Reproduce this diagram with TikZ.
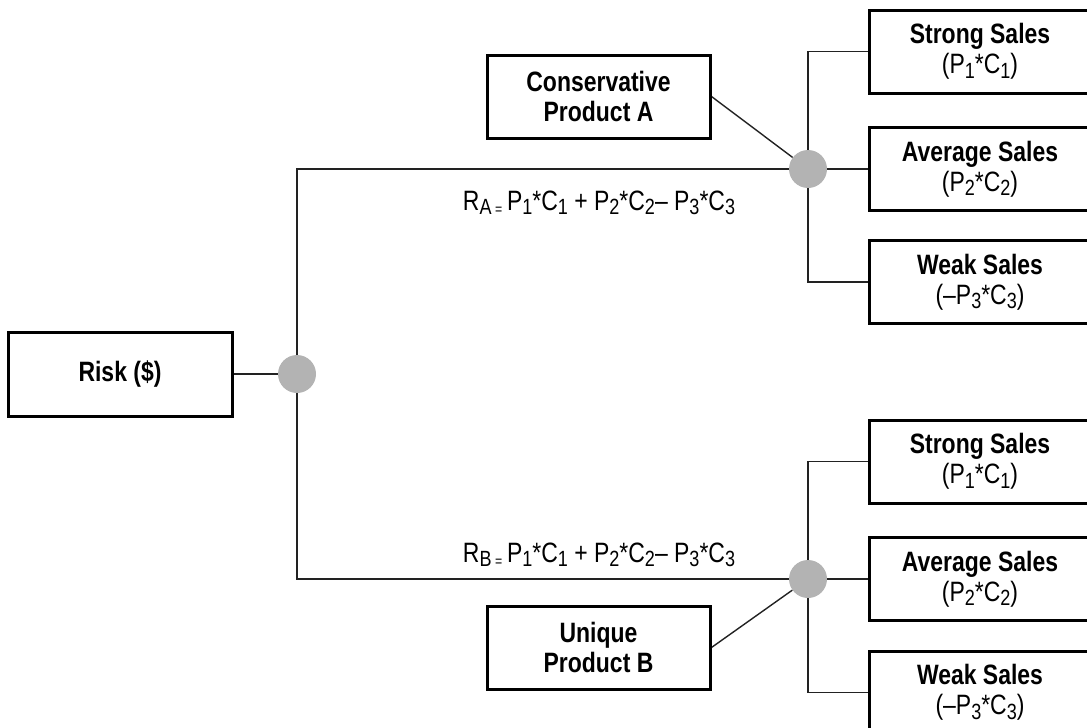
\documentclass[tikz,border=0pt]{standalone}
\usepackage{fontspec}
\setmainfont{Liberation Sans}[FakeStretch=0.82]
\usetikzlibrary{backgrounds}
\definecolor{dotgray}{HTML}{B3B3B3}
\definecolor{linegray}{HTML}{222222}
\newcommand{\sbs}[1]{\raisebox{-4.5pt}{\fontsize{22}{22}\selectfont #1}}
\tikzset{
  box/.style={draw, line width=3pt, minimum width=222pt, minimum height=83pt,
    align=center, inner sep=0pt, font=\fontsize{28}{30}\selectfont},
  dot/.style={circle, fill=dotgray, minimum size=38pt, inner sep=0pt},
  conn/.style={draw=linegray, line width=1.4pt},
  formula/.style={font=\fontsize{28}{30}\selectfont, inner sep=0pt}
}
\begin{document}
\begin{tikzpicture}[x=1pt,y=-1pt]
\useasboundingbox (0,0) rectangle (1087,728);
\clip (0,0) rectangle (1087,728);
% boxes
\node[box, minimum width=224pt, minimum height=84pt] (risk) at (120,374) {\textbf{Risk (\$)}};
\node[box, minimum width=223pt] (consA) at (598.5,96.5) {\textbf{Conservative}\\\textbf{Product A}};
\node[box, minimum width=223pt] (uniqB) at (598.5,647.5) {\textbf{Unique}\\\textbf{Product B}};
\node[box] (sA1) at (980,51.5) {\textbf{Strong Sales}\\(P\sbs{1}*C\sbs{1})};
\node[box] (sA2) at (980,169) {\textbf{Average Sales}\\(P\sbs{2}*C\sbs{2})};
\node[box] (sA3) at (980,282) {\textbf{Weak Sales}\\(–P\sbs{3}*C\sbs{3})};
\node[box] (sB1) at (980,461.5) {\textbf{Strong Sales}\\(P\sbs{1}*C\sbs{1})};
\node[box] (sB2) at (980,579) {\textbf{Average Sales}\\(P\sbs{2}*C\sbs{2})};
\node[box] (sB3) at (980,692.5) {\textbf{Weak Sales}\\(–P\sbs{3}*C\sbs{3})};
% chance nodes
\node[dot] (root) at (297,374) {};
\node[dot] (cA) at (808,169) {};
\node[dot] (cB) at (808,579) {};
% formulas
\node[formula] (fA) at (599,203) {R\sbs{A\,{\fontsize{15}{15}\selectfont=}}\,P\sbs{1}*C\sbs{1} + P\sbs{2}*C\sbs{2}– P\sbs{3}*C\sbs{3}};
\node[formula] (fB) at (599,555) {R\sbs{B\,{\fontsize{15}{15}\selectfont=}}\,P\sbs{1}*C\sbs{1} + P\sbs{2}*C\sbs{2}– P\sbs{3}*C\sbs{3}};
% connectors
\begin{scope}[on background layer]
\draw[conn] (risk.east) -- (root);
\draw[conn] (root) |- (cA);
\draw[conn] (root) |- (cB);
\draw[conn] (consA.east) -- (cA);
\draw[conn] (uniqB.east) -- (cB);
\draw[conn] (cA) |- (sA1.west);
\draw[conn] (cA) -- (sA2.west);
\draw[conn] (cA) |- (sA3.west);
\draw[conn] (cB) |- (sB1.west);
\draw[conn] (cB) -- (sB2.west);
\draw[conn] (cB) |- (sB3.west);
\end{scope}
\end{tikzpicture}
\end{document}
